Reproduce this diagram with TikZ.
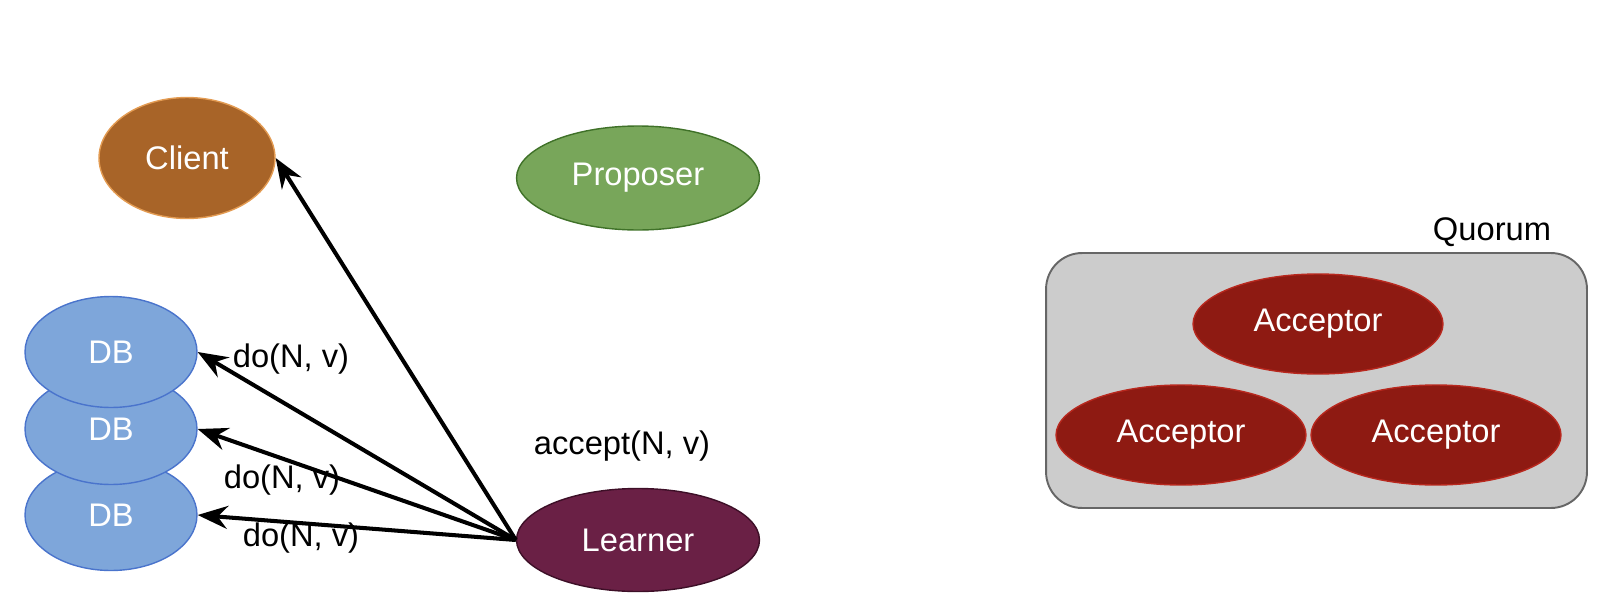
\documentclass[tikz,border=0pt]{standalone}
\usepackage{fontspec}
\setmainfont{Liberation Sans}
\usepackage{tikz}
\usetikzlibrary{shapes.geometric,arrows.meta}
\definecolor{clientfill}{HTML}{A86428}
\definecolor{clientline}{HTML}{E39B52}
\definecolor{propfill}{HTML}{78A65A}
\definecolor{propline}{HTML}{3F7128}
\definecolor{dbfill}{HTML}{7EA6DA}
\definecolor{dbline}{HTML}{4A74CC}
\definecolor{learnfill}{HTML}{6A2045}
\definecolor{learnline}{HTML}{3D0F27}
\definecolor{accfill}{HTML}{8E1A12}
\definecolor{accline}{HTML}{B8281E}
\definecolor{quorumfill}{HTML}{CCCCCC}
\definecolor{quorumline}{HTML}{666666}

\begin{document}
\begin{tikzpicture}[x=0.02cm,y=-0.02cm, font=\fontsize{18.6}{22}\selectfont,
    role/.style={ellipse, draw=#1line, fill=#1fill, line width=0.8pt, text=white, inner sep=0pt},
    sig/.style={-{Stealth[length=0.6cm,width=0.46cm,inset=0.2cm]}, line width=2.3pt, black},
    lbl/.style={text=black, inner sep=0pt}]
  \useasboundingbox (0,0) rectangle (1608,612);
  \node[role=client, minimum width=3.52cm, minimum height=2.42cm] (client) at (187,158) {Client};
  \node[role=prop, minimum width=4.86cm, minimum height=2.08cm] (proposer) at (638,178) {Proposer};
  \node[role=learn, minimum width=4.86cm, minimum height=2.06cm] (learner) at (638,540) {Learner};
  % stacked replicas, lowest one first
  \foreach \n/\y in {C/515, B/429, A/352}{
    \node[role=db, minimum width=3.44cm, minimum height=2.22cm] (db\n) at (111,\y) {DB};
  }
  \draw[sig] (learner.west) -- (client.east);
  \draw[sig] (learner.west) -- (dbA.east);
  \draw[sig] (learner.west) -- (dbB.east);
  \draw[sig] (learner.west) -- (dbC.east);
  \node[lbl] (doA) at (291,359) {do(N, v)};
  \node[lbl] (doB) at (282,480) {do(N, v)};
  \node[lbl] (doC) at (301,538) {do(N, v)};
  \node[lbl] (accept) at (622,446) {accept(N, v)};
  % quorum of acceptors
  \node[draw=quorumline, fill=quorumfill, line width=1.1pt, rounded corners=0.72cm,
        minimum width=10.82cm, minimum height=5.1cm] (quorum) at (1316.5,380.5) {};
  \node[lbl] (qlabel) at (1492,232) {Quorum};
  \node[role=acc, minimum width=5.0cm, minimum height=2.0cm] (accTop) at (1318,324) {Acceptor};
  \node[role=acc, minimum width=5.0cm, minimum height=2.0cm] (accLeft) at (1181,435) {Acceptor};
  \node[role=acc, minimum width=5.0cm, minimum height=2.0cm] (accRight) at (1436,435) {Acceptor};
\end{tikzpicture}
\end{document}
